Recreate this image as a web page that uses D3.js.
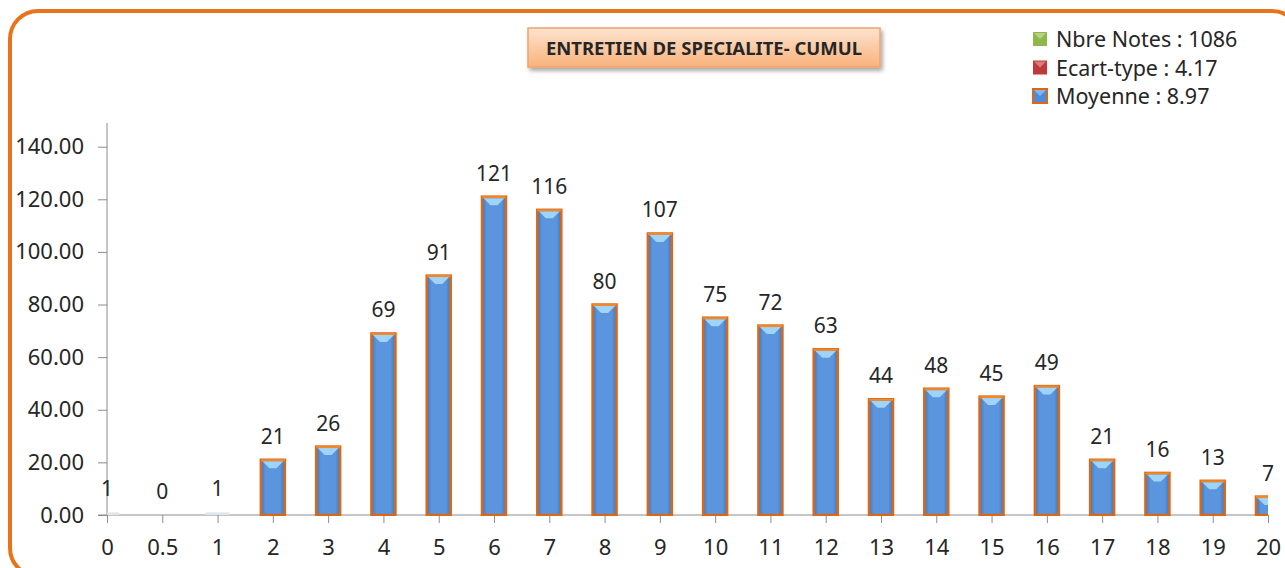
<!DOCTYPE html>
<html>
<head>
<meta charset="utf-8">
<script src="https://cdn.jsdelivr.net/npm/d3@7"></script>
<style>
  body { margin: 0; background: #fff; }
  text { font-family: "Noto Sans", sans-serif; fill: #262626; }
  .axis path, .axis line { stroke: #8c8c8c; }
  .axis text { font-size: 22px; fill: #262626; font-family: "Noto Sans", sans-serif; }
</style>
</head>
<body>
<div id="chart"></div>
<script>
// notes (categories) and counts
var notes = ["0", "0.5", "1", "2", "3", "4", "5", "6", "7", "8", "9", "10",
             "11", "12", "13", "14", "15", "16", "17", "18", "19", "20"];
var counts = [1, 0, 1, 21, 26, 69, 91, 121, 116, 80, 107, 75,
              72, 63, 44, 48, 45, 49, 21, 16, 13, 7];
var yTicks = [0, 20, 40, 60, 80, 100, 120, 140];
var legendLabels = ["Nbre Notes : 1086", "Ecart-type : 4.17", "Moyenne : 8.97"];
var legendColors = ["#8fb84a", "#c0393a", "#4f8bd6"];
var title = "ENTRETIEN DE SPECIALITE- CUMUL";

var width = 1285, height = 568;
var x0 = 107, x1 = 1268, yBase = 515, yTop = 123;

var svg = d3.select("#chart").append("svg")
  .attr("width", width)
  .attr("height", height);

var defs = svg.append("defs");

var barGrad = defs.append("linearGradient").attr("id", "barGrad")
  .attr("x1", 0).attr("x2", 1).attr("y1", 0).attr("y2", 0);
barGrad.append("stop").attr("offset", "0%").attr("stop-color", "#3f77c0");
barGrad.append("stop").attr("offset", "20%").attr("stop-color", "#5a95dd");
barGrad.append("stop").attr("offset", "80%").attr("stop-color", "#5a95dd");
barGrad.append("stop").attr("offset", "100%").attr("stop-color", "#3f77c0");

var titleGrad = defs.append("linearGradient").attr("id", "titleGrad")
  .attr("x1", 0).attr("x2", 0).attr("y1", 0).attr("y2", 1);
titleGrad.append("stop").attr("offset", "0%").attr("stop-color", "#fde3cf");
titleGrad.append("stop").attr("offset", "100%").attr("stop-color", "#f9b27c");

var shadow = defs.append("filter").attr("id", "shadow")
  .attr("x", "-10%").attr("y", "-30%").attr("width", "130%").attr("height", "180%");
shadow.append("feDropShadow").attr("dx", 2).attr("dy", 3).attr("stdDeviation", 2)
  .attr("flood-color", "#000").attr("flood-opacity", 0.35);

defs.append("clipPath").attr("id", "plotClip")
  .append("rect").attr("x", x0).attr("y", 0).attr("width", x1 - x0).attr("height", yBase + 1);

// outer rounded frame
svg.append("rect")
  .attr("x", 10).attr("y", 11)
  .attr("width", 1290).attr("height", 565)
  .attr("rx", 28).attr("ry", 28)
  .attr("fill", "none")
  .attr("stroke", "#e8731b")
  .attr("stroke-width", 4);

var x = d3.scalePoint().domain(notes).range([x0, x1]);
var y = d3.scaleLinear().domain([0, 149]).range([yBase, yTop]);

// y axis
var yAxis = svg.append("g").attr("class", "axis")
  .attr("transform", "translate(" + x0 + ",0)")
  .call(d3.axisLeft(y).tickValues(yTicks).tickFormat(d3.format(".2f"))
    .tickSizeOuter(0).tickSize(9).tickPadding(14));
yAxis.select(".domain").attr("d", "M0," + yBase + "V" + yTop);

// x axis
var xAxis = svg.append("g").attr("class", "axis")
  .attr("transform", "translate(0," + yBase + ")")
  .call(d3.axisBottom(x).tickSizeOuter(0).tickSize(8).tickPadding(16));
xAxis.select(".domain").attr("d", "M" + (x0 - 9) + ",0H" + x1);

// bars
var bw = 24;
var bars = svg.append("g").attr("clip-path", "url(#plotClip)")
  .selectAll("g.bar").data(counts).enter().append("g").attr("class", "bar");

bars.each(function(d, i) {
  var g = d3.select(this);
  var cx = x(notes[i]);
  var top = y(d);
  var h = yBase - top;
  if (d <= 1) {
    g.append("rect")
      .attr("x", cx - bw / 2).attr("y", top)
      .attr("width", bw).attr("height", h)
      .attr("fill", "#dfe6ee");
    return;
  }
  g.append("rect")
    .attr("x", cx - bw / 2).attr("y", top)
    .attr("width", bw).attr("height", h)
    .attr("fill", "url(#barGrad)")
    .attr("stroke", "#d8681a")
    .attr("stroke-width", 2.5);
  var bev = Math.min(7, h / 2);
  g.append("path")
    .attr("d", "M" + (cx - bw / 2 + 1.5) + "," + (top + 1.5) +
      "L" + (cx + bw / 2 - 1.5) + "," + (top + 1.5) +
      "L" + (cx + bw / 2 - 1.5 - bev) + "," + (top + 1.5 + bev) +
      "L" + (cx - bw / 2 + 1.5 + bev) + "," + (top + 1.5 + bev) + "Z")
    .attr("fill", "#9fd3f7");
  g.append("line")
    .attr("x1", cx - bw / 2).attr("x2", cx + bw / 2)
    .attr("y1", top + 0.5).attr("y2", top + 0.5)
    .attr("stroke", "#f08a2a").attr("stroke-width", 2);
});

// data labels
svg.append("g").selectAll("text").data(counts).enter().append("text")
  .attr("x", function(d, i) { return x(notes[i]); })
  .attr("y", function(d) { return y(d) - 16; })
  .attr("text-anchor", "middle")
  .style("font-size", "21px")
  .text(function(d) { return d; });

// title box
var tg = svg.append("g");
tg.append("rect")
  .attr("x", 528).attr("y", 28).attr("width", 352).attr("height", 39)
  .attr("fill", "url(#titleGrad)")
  .attr("stroke", "#f0a46a").attr("stroke-width", 1.5)
  .attr("filter", "url(#shadow)");
tg.append("text")
  .attr("x", 704).attr("y", 54.5)
  .attr("text-anchor", "middle")
  .style("font-size", "18.5px").style("font-weight", "bold")
  .text(title);

// legend
var lg = svg.append("g").selectAll("g").data(legendLabels).enter().append("g")
  .attr("transform", function(d, i) { return "translate(1033," + (32 + i * 28.5) + ")"; });
lg.append("rect")
  .attr("width", 14).attr("height", 14)
  .attr("fill", function(d, i) { return legendColors[i]; })
  .attr("stroke", function(d, i) { return i === 2 ? "#d8681a" : "none"; })
  .attr("stroke-width", 2);
lg.append("path")
  .attr("d", "M1,1L13,1L7,7Z")
  .attr("fill", "#fff").attr("opacity", 0.35);
lg.append("text")
  .attr("x", 23).attr("y", 15)
  .style("font-size", "21.5px")
  .text(function(d) { return d; });
</script>
</body>
</html>
